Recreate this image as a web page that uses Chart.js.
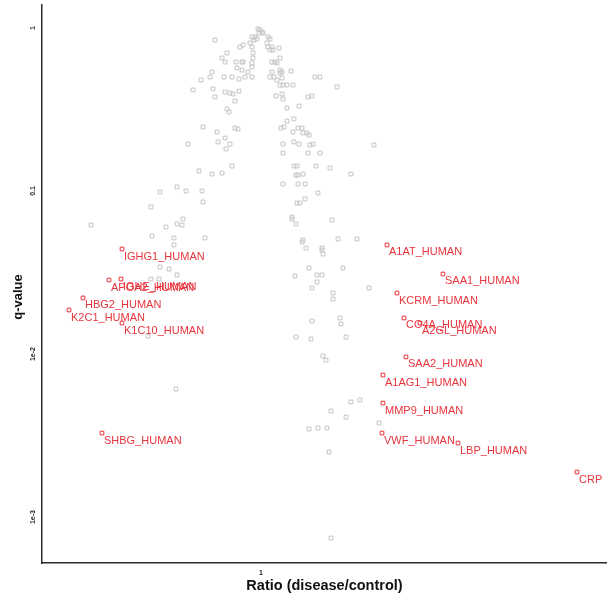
<!DOCTYPE html>
<html>
<head>
<meta charset="utf-8">
<script src="https://cdn.jsdelivr.net/npm/chart.js@4/dist/chart.umd.min.js"></script>
<style>
  html, body { margin: 0; padding: 0; background: #ffffff; }
  #wrap { width: 607px; height: 596px; }
</style>
</head>
<body>
<div id="wrap"><canvas id="c" width="607" height="596"></canvas></div>
<script>
// ---- tick labels ----
const xTickValues = [1];
const xTickLabels = ['1'];
const yTickValues = [1, 0.1, 0.01, 0.001];
const yTickLabels = ['1', '0.1', '1e-2', '1e-3'];
const xTitle = 'Ratio (disease/control)';
const yTitle = 'q-value';

// ---- all proteins (grey): log2(ratio) and log10(q-value) ----
const bgLog2Ratio = [
  -0.46,-0.01,0.01,0.02,-0.02,-0.03,-0.09,-0.06,-0.04,-0.07,0.07,0.09,-0.34,-0.21,-0.18,-0.11,-0.09,-0.08,0.06,0.07,
  0.11,0.09,0.12,0.18,-0.39,-0.25,-0.19,-0.18,-0.08,-0.09,0.11,0.14,0.16,0.19,-0.36,-0.49,-0.24,-0.19,-0.09,-0.13,
  0.11,0.19,0.19,0.21,0.30,-0.51,-0.60,-0.37,-0.29,-0.22,-0.16,-0.09,0.09,0.13,0.16,0.21,0.19,0.22,0.26,0.32,
  0.54,0.59,0.76,-0.68,-0.48,-0.36,-0.31,-0.28,-0.22,-0.46,-0.26,0.15,0.21,0.22,0.47,0.51,0.26,0.38,-0.34,-0.32,
  0.26,0.33,0.20,0.23,0.32,0.37,0.41,0.42,0.46,0.48,0.22,0.33,0.38,0.49,0.52,1.13,0.22,0.47,0.59,0.33,
  0.36,0.55,0.69,0.35,0.37,0.42,0.90,0.22,0.37,0.44,0.57,0.44,0.39,0.36,0.31,0.31,0.35,0.71,0.42,0.41,
  0.77,0.96,0.45,0.61,0.61,0.62,-0.58,-0.44,-0.26,-0.23,-0.36,-0.31,-0.43,-0.35,-0.73,-0.29,-0.62,-0.49,-0.39,-0.84,
  -1.01,-0.75,-0.59,-0.58,-1.10,-0.78,-0.84,-0.79,-0.95,-1.70,-1.09,-0.87,-0.56,-0.87,-1.01,-0.92,-0.84,-1.10,-1.02,-1.13,
  -0.85,0.48,0.82,0.34,0.56,0.61,0.56,0.51,0.72,0.72,1.08,0.51,0.79,0.80,0.35,0.50,0.85,0.62,0.65,0.90,
  0.99,0.70,0.85,1.18,0.48,0.57,0.66,0.68,0.70
];
const bgLog10Q = [
  -0.074,-0.012,-0.025,-0.031,-0.031,-0.006,-0.055,-0.055,-0.067,-0.074,-0.055,-0.067,-0.153,-0.117,-0.104,-0.092,-0.117,-0.153,-0.092,-0.117,
  -0.117,-0.135,-0.135,-0.123,-0.184,-0.209,-0.209,-0.209,-0.184,-0.215,-0.209,-0.209,-0.215,-0.184,-0.209,-0.270,-0.245,-0.258,-0.239,-0.270,
  -0.270,-0.258,-0.276,-0.270,-0.264,-0.301,-0.319,-0.301,-0.301,-0.313,-0.301,-0.301,-0.301,-0.301,-0.319,-0.307,-0.350,-0.350,-0.350,-0.350,
  -0.301,-0.301,-0.362,-0.380,-0.374,-0.393,-0.399,-0.405,-0.387,-0.423,-0.448,-0.417,-0.405,-0.436,-0.423,-0.417,-0.491,-0.479,-0.497,-0.515,
  -0.571,-0.558,-0.614,-0.607,-0.638,-0.614,-0.614,-0.644,-0.644,-0.656,-0.712,-0.699,-0.712,-0.718,-0.712,-0.718,-0.767,-0.767,-0.767,-0.847,
  -0.847,-0.847,-0.859,-0.902,-0.902,-0.896,-0.896,-0.957,-0.957,-0.957,-1.012,-1.049,-1.074,-1.074,-1.160,-1.172,-1.202,-1.178,-1.301,-1.313,
  -1.294,-1.294,-1.350,-1.350,-1.362,-1.387,-0.607,-0.638,-0.614,-0.620,-0.675,-0.712,-0.699,-0.742,-0.712,-0.847,-0.877,-0.896,-0.890,-0.975,
  -1.006,-1.000,-1.000,-1.067,-1.098,-1.172,-1.202,-1.209,-1.221,-1.209,-1.276,-1.288,-1.288,-1.331,-1.466,-1.479,-1.515,-1.540,-1.540,-1.890,
  -2.215,-1.472,-1.472,-1.521,-1.515,-1.515,-1.558,-1.595,-1.626,-1.663,-1.595,-1.798,-1.779,-1.816,-1.896,-1.908,-1.896,-2.012,-2.037,-2.294,
  -2.282,-2.350,-2.387,-2.423,-2.460,-2.454,-2.454,-2.601,-3.129
];

// ---- highlighted proteins (red) ----
const hitNames = [
  'IGHG1_HUMAN','APOA2_HUMAN','IGHE_HUMAN','HBG2_HUMAN','K2C1_HUMAN','K1C10_HUMAN','SHBG_HUMAN',
  'A1AT_HUMAN','SAA1_HUMAN','KCRM_HUMAN','CO4A_HUMAN','A2GL_HUMAN','SAA2_HUMAN','A1AG1_HUMAN',
  'MMP9_HUMAN','VWF_HUMAN','LBP_HUMAN','CRP'
];
const hitLog2Ratio = [-1.39,-1.52,-1.40,-1.78,-1.92,-1.39,-1.59,1.26,1.82,1.36,1.43,1.59,1.45,1.22,1.22,1.21,1.97,3.16];
const hitLog10Q   = [-1.356,-1.546,-1.540,-1.656,-1.730,-1.810,-2.485,-1.331,-1.509,-1.626,-1.779,-1.810,-2.018,-2.129,-2.301,-2.485,-2.546,-2.724];

// axis ranges (log units)
const xRangeLog2 = [-2.19, 3.46];
const yRangeLog10 = [-3.282, 0.141];

const bgPoints = bgLog2Ratio.map((v, i) => ({ x: Math.pow(2, v), y: Math.pow(10, bgLog10Q[i]) }));
const hitPoints = hitLog2Ratio.map((v, i) => ({ x: Math.pow(2, v), y: Math.pow(10, hitLog10Q[i]), name: hitNames[i] }));

const RED = '#e8343c';

const textPlugin = {
  id: 'textPlugin',
  afterDraw(chart) {
    const ctx = chart.ctx;
    const xs = chart.scales.x, ys = chart.scales.y;
    const area = chart.chartArea;
    ctx.save();
    // protein labels
    ctx.fillStyle = RED;
    ctx.font = '11px "Liberation Sans", Arial, sans-serif';
    ctx.textAlign = 'left';
    ctx.textBaseline = 'alphabetic';
    const meta = chart.getDatasetMeta(1);
    meta.data.forEach((el, i) => {
      ctx.fillText(hitNames[i], el.x + 2, el.y + 10.5);
    });
    // y tick labels (rotated)
    ctx.fillStyle = '#222';
    ctx.font = 'bold 7px "Liberation Sans", Arial, sans-serif';
    ctx.textAlign = 'center';
    ctx.textBaseline = 'middle';
    yTickValues.forEach((v, i) => {
      const py = ys.getPixelForValue(v);
      ctx.save();
      ctx.translate(area.left - 9, py);
      ctx.rotate(-Math.PI / 2);
      ctx.fillText(yTickLabels[i], 0, 0);
      ctx.restore();
    });
    // x tick labels
    xTickValues.forEach((v, i) => {
      const px = xs.getPixelForValue(v);
      ctx.fillText(xTickLabels[i], px, area.bottom + 10);
    });
    // axis titles
    ctx.fillStyle = '#111';
    ctx.font = 'bold 14.5px "Liberation Sans", Arial, sans-serif';
    ctx.fillText(xTitle, (area.left + area.right) / 2, 586);
    ctx.save();
    ctx.translate(18, 297);
    ctx.rotate(-Math.PI / 2);
    ctx.font = 'bold 13px "Liberation Sans", Arial, sans-serif';
    ctx.fillText(yTitle, 0, 0);
    ctx.restore();
    ctx.restore();
  }
};

new Chart(document.getElementById('c'), {
  type: 'scatter',
  data: {
    datasets: [
      {
        label: 'proteins',
        data: bgPoints,
        pointStyle: 'rect',
        radius: 2.7,
        borderWidth: 1,
        borderColor: '#c4c4c4',
        backgroundColor: 'rgba(0,0,0,0)'
      },
      {
        label: 'highlighted',
        data: hitPoints,
        pointStyle: 'rect',
        radius: 2.6,
        borderWidth: 1,
        borderColor: RED,
        backgroundColor: 'rgba(0,0,0,0)'
      }
    ]
  },
  options: {
    responsive: false,
    devicePixelRatio: 1,
    animation: false,
    clip: false,
    layout: { autoPadding: false, padding: { top: 5, right: 0, left: 0, bottom: 0 } },
    plugins: { legend: { display: false }, tooltip: { enabled: false } },
    scales: {
      x: {
        type: 'logarithmic',
        bounds: 'data',
        min: Math.pow(2, xRangeLog2[0]),
        max: Math.pow(2, xRangeLog2[1]),
        afterBuildTicks: s => { s.ticks = xTickValues.map(v => ({ value: v })); },
        afterFit: s => { s.height = 33; },
        ticks: { display: false },
        grid: { display: false, drawTicks: false },
        border: { display: true, color: '#2a2a2a', width: 1.5 }
      },
      y: {
        type: 'logarithmic',
        bounds: 'data',
        min: Math.pow(10, yRangeLog10[0]),
        max: Math.pow(10, yRangeLog10[1]),
        afterBuildTicks: s => { s.ticks = yTickValues.map(v => ({ value: v })); },
        afterFit: s => { s.width = 42; },
        ticks: { display: false },
        grid: { display: false, drawTicks: false },
        border: { display: true, color: '#2a2a2a', width: 1.5 }
      }
    }
  },
  plugins: [textPlugin]
});
</script>
</body>
</html>
